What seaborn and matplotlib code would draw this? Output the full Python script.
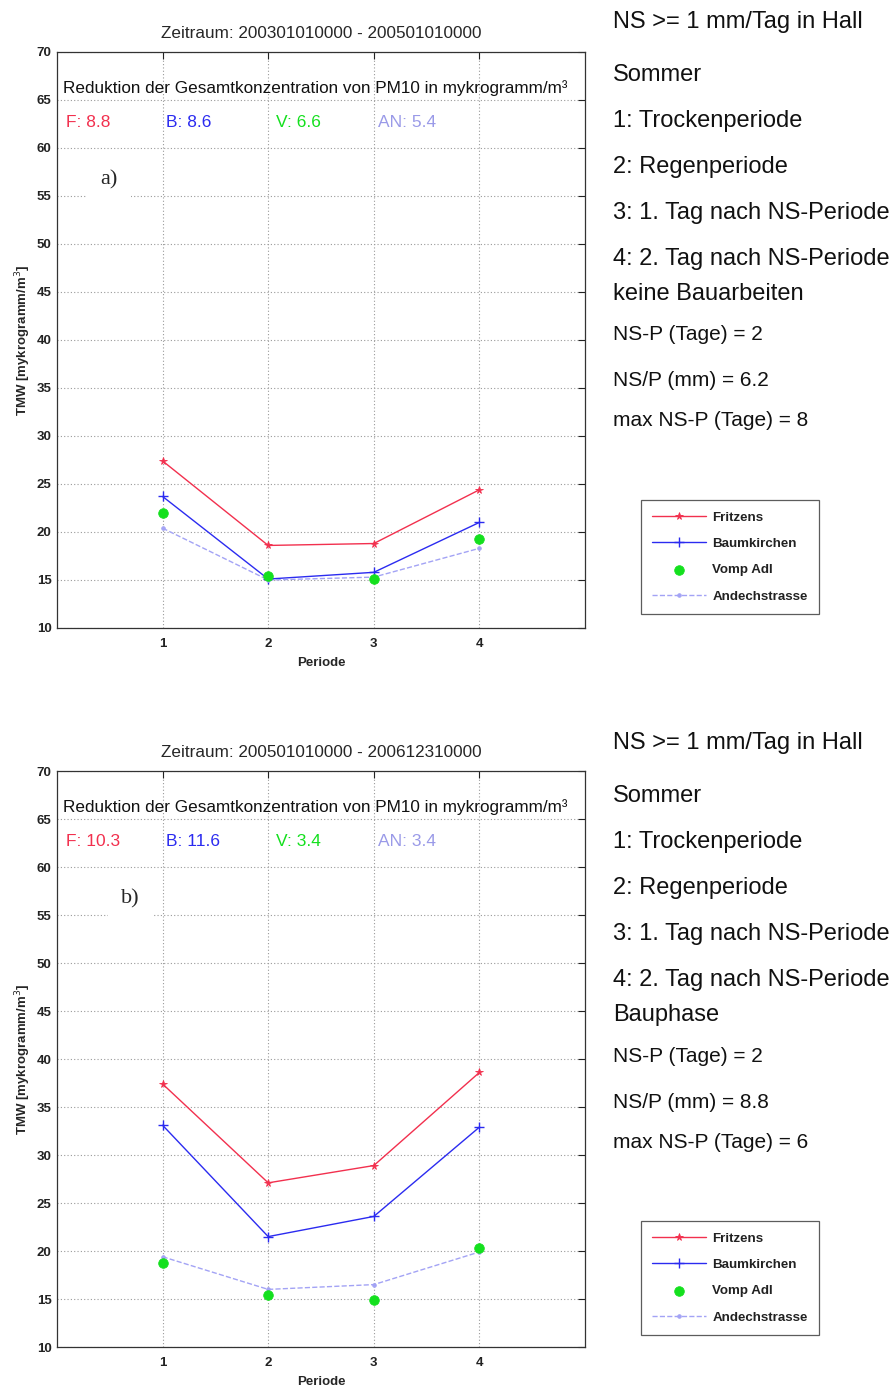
import matplotlib
matplotlib.use("Agg")
import matplotlib.pyplot as plt
import pandas as pd
import seaborn as sns

# ---- data -------------------------------------------------------------
periods = [1, 2, 3, 4]
stations = ["Fritzens", "Baumkirchen", "Vomp Adl", "Andechstrasse"]
short_names = ["F", "B", "V", "AN"]

fritzens_a = [27.4, 18.6, 18.8, 24.4]
baumkirchen_a = [23.7, 15.1, 15.8, 21.0]
vomp_a = [22.0, 15.4, 15.1, 19.3]
andechstrasse_a = [20.4, 15.0, 15.3, 18.3]

fritzens_b = [37.4, 27.1, 28.9, 38.6]
baumkirchen_b = [33.1, 21.5, 23.6, 32.9]
vomp_b = [18.8, 15.4, 14.9, 20.3]
andechstrasse_b = [19.4, 16.0, 16.5, 19.9]

titles = ["Zeitraum: 200301010000 - 200501010000",
          "Zeitraum: 200501010000 - 200612310000"]
panel_tags = ["a)", "b)"]
side_common = ["NS >= 1 mm/Tag in Hall", "Sommer", "1: Trockenperiode",
               "2: Regenperiode", "3: 1. Tag nach NS-Periode",
               "4: 2. Tag nach NS-Periode"]
side_phase = ["keine Bauarbeiten", "Bauphase"]
ns_p_days = [2, 2]
ns_per_mm = [6.2, 8.8]
max_ns_p_days = [8, 6]

# ---- styling ----------------------------------------------------------
sns.set_style("white")
plt.rcParams["font.family"] = ["Liberation Sans", "DejaVu Sans"]

colors = {"Fritzens": "#f2304e", "Baumkirchen": "#2b2bf0",
          "Vomp Adl": "#14e01e", "Andechstrasse": "#a3a3f5"}
text_colors = {"F": "#f2304e", "B": "#2b2bf0", "V": "#14e01e", "AN": "#9a9ae8"}

W, H = 891, 1385
fig = plt.figure(figsize=(W / 100, H / 100), dpi=100)


def fx(px):
    return px / W


def fy(py):
    return 1 - py / H


def draw_panel(ax, series, title, tag):
    df = pd.DataFrame({"Periode": periods * 4,
                       "TMW": [v for s in series for v in s],
                       "Station": [n for n in stations for _ in periods]})
    c = colors["Fritzens"]
    sns.lineplot(data=df[df.Station == "Fritzens"], x="Periode", y="TMW", ax=ax,
                 color=c, marker="*", markersize=5.5, markeredgewidth=0.6,
                 markeredgecolor=c, lw=1.0, label="Fritzens")
    c = colors["Baumkirchen"]
    sns.lineplot(data=df[df.Station == "Baumkirchen"], x="Periode", y="TMW", ax=ax,
                 color=c, marker="+", markersize=7.5, markeredgewidth=1.0,
                 markeredgecolor=c, lw=1.0, label="Baumkirchen")
    c = colors["Vomp Adl"]
    sns.scatterplot(data=df[df.Station == "Vomp Adl"], x="Periode", y="TMW", ax=ax,
                    color=c, marker="o", s=48, edgecolor=c, zorder=4,
                    label="Vomp Adl")
    c = colors["Andechstrasse"]
    sns.lineplot(data=df[df.Station == "Andechstrasse"], x="Periode", y="TMW",
                 ax=ax, color=c, marker=".", markersize=5, markeredgecolor=c,
                 lw=1.0, linestyle="--", label="Andechstrasse")

    ax.set_xlim(0, 5)
    ax.set_ylim(10, 70)
    ax.set_xticks(periods)
    ax.set_yticks(range(10, 71, 5))
    ax.tick_params(direction="in", length=5, width=0.8, top=True, right=True,
                   labelsize=9.5, pad=4, colors="#222222")
    ax.tick_params(axis="x", pad=7)
    for lab in ax.get_xticklabels() + ax.get_yticklabels():
        lab.set_fontweight("bold")
    ax.grid(True, color="#9a9a9a", linestyle=(0, (1, 2)), lw=0.8)
    ax.set_axisbelow(True)
    for sp in ax.spines.values():
        sp.set_color("#333333")
        sp.set_linewidth(0.9)
    ax.set_xlabel("Periode", fontsize=9.5, fontweight="bold", labelpad=5)
    ax.set_ylabel("TMW [mykrogramm/m$^3$]", fontsize=9.5, fontweight="bold")
    ax.yaxis.set_label_coords(-0.045, 0.5)
    ax.set_title(title, fontsize=12.3, pad=10)

    ax.text(0.057, 65.75, "Reduktion der Gesamtkonzentration von PM10 in mykrogramm/m³",
            fontsize=12.3, va="baseline", ha="left", color="#111111")
    xs = [0.085, 1.03, 2.07, 3.04]
    for i, (name, s) in enumerate(zip(short_names, series)):
        red = s[0] - s[1]
        ax.text(xs[i], 62.2, f"{name}: {red:.1f}", fontsize=12.5, va="baseline",
                ha="left", color=text_colors[name])
    ax.text(tag[1], 56.7, tag[0], family=["Liberation Serif", "DejaVu Serif"],
            fontsize=16, va="center", ha="left",
            bbox=dict(facecolor="white", edgecolor="none", pad=10))
    leg = ax.get_legend()
    if leg is not None:
        leg.remove()


ax_top = fig.add_axes([fx(57), fy(628), fx(585 - 57), (628 - 52) / H])
ax_bot = fig.add_axes([fx(57), fy(1347), fx(585 - 57), (1347 - 771) / H])

draw_panel(ax_top, [fritzens_a, baumkirchen_a, vomp_a, andechstrasse_a],
           titles[0], (panel_tags[0], 0.41))
draw_panel(ax_bot, [fritzens_b, baumkirchen_b, vomp_b, andechstrasse_b],
           titles[1], (panel_tags[1], 0.61))

# ---- side annotations and legends --------------------------------------
for k, offset in enumerate([0, 721]):
    ys_big = [22, 75, 121, 167, 213, 259]
    for txt, y in zip(side_common, ys_big):
        fig.text(fx(613), fy(y + offset), txt, fontsize=17, va="center",
                 ha="left", color="#111111")
    fig.text(fx(613), fy(294 + offset), side_phase[k], fontsize=17,
             va="center", ha="left", color="#111111")
    small = [f"NS-P (Tage) = {ns_p_days[k]}", f"NS/P (mm) = {ns_per_mm[k]}",
             f"max NS-P (Tage) = {max_ns_p_days[k]}"]
    for txt, y in zip(small, [335, 381, 421]):
        fig.text(fx(613), fy(y + offset), txt, fontsize=15, va="center",
                 ha="left", color="#111111")

    ax = [ax_top, ax_bot][k]
    handles, labels = ax.get_legend_handles_labels()
    leg = fig.legend(handles, labels, loc="upper left",
                     bbox_to_anchor=(fx(641), fy(500 + offset)),
                     frameon=True, fancybox=False, edgecolor="#333333",
                     fontsize=9.6, handlelength=4.0, labelspacing=1.05,
                     borderpad=0.85, handletextpad=0.5, borderaxespad=0)
    leg.get_frame().set_linewidth(0.9)
    for t in leg.get_texts():
        t.set_fontweight("bold")
        t.set_color("#222222")

fig.savefig("out.png", dpi=100, facecolor="white")
